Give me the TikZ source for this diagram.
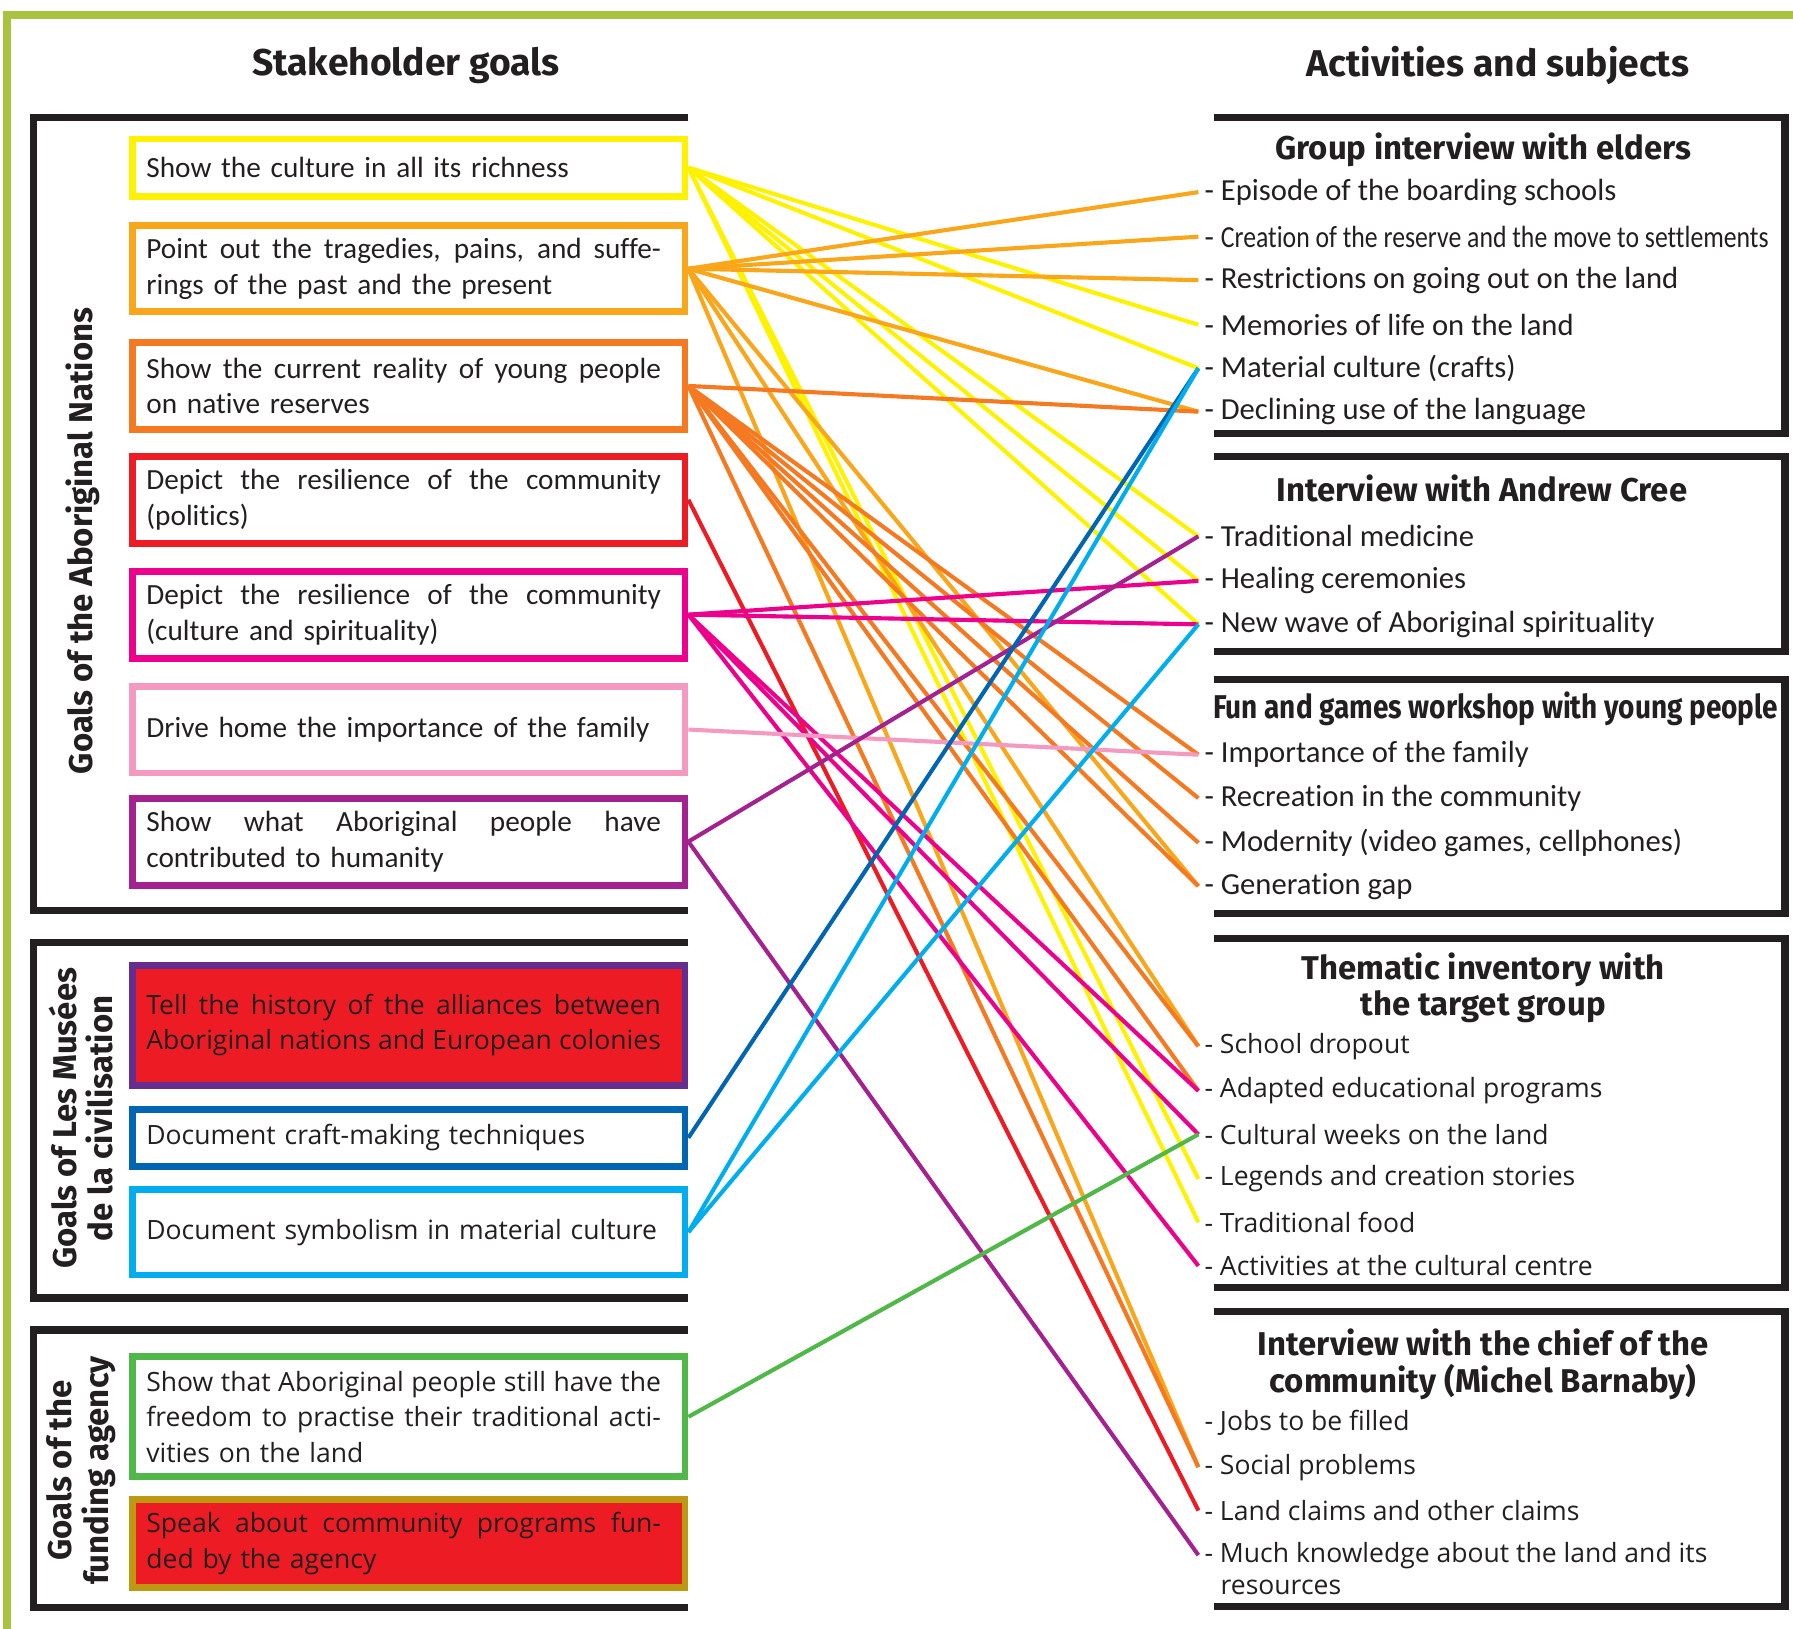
\documentclass[tikz,border=0pt]{standalone}
\usepackage{fontspec}
\usepackage{graphicx}
\usepackage{xcolor}
\usepackage{tikz}
\setmainfont{Open Sans}
\newfontfamily\condfont{Carlito}[Ligatures=NoCommon]
\newfontfamily\headfont{Fira Sans}

\definecolor{framegreen}{HTML}{A9C23F}
\definecolor{inkblack}{HTML}{231F20}
\definecolor{gyellow}{HTML}{FFF200}
\definecolor{gamber}{HTML}{FAA61A}
\definecolor{gorange}{HTML}{F47920}
\definecolor{gred}{HTML}{ED1C24}
\definecolor{gmagenta}{HTML}{EC008C}
\definecolor{gpink}{HTML}{F49AC1}
\definecolor{gpurple}{HTML}{A3228F}
\definecolor{gviolet}{HTML}{662D91}
\definecolor{gblue}{HTML}{0066B3}
\definecolor{gcyan}{HTML}{00AEEF}
\definecolor{ggreen}{HTML}{50B848}
\definecolor{ggold}{HTML}{BE9810}

\newcommand{\jline}[1]{{\spaceskip=0.24em plus 1fil minus 0.08em\relax\makebox[225pt][s]{#1}}}

\begin{document}
\begin{tikzpicture}[x=0.5pt, y=-0.5pt,
    goal/.style={draw=#1, line width=3pt, minimum width=241.5pt, text width=229.5pt, inner sep=0pt, align=left, text=inkblack, font=\condfont\fontsize{12.8}{15.5}\selectfont},
    goalw/.style={goal=#1, font=\fontsize{11.6}{15.5}\selectfont},
    item/.style={anchor=west, inner xsep=2.5pt, inner ysep=0pt, text=inkblack, font=\condfont\fontsize{13.4}{15}\selectfont},
    itemw/.style={item, font=\fontsize{11.6}{14}\selectfont},
    head/.style={text=inkblack, align=center, font=\headfont\bfseries\fontsize{14.4}{16}\selectfont},
    title/.style={head, font=\headfont\bfseries\fontsize{16.3}{18}\selectfont},
    grp/.style={draw=inkblack, line width=3.2pt},
    link/.style={line width=1.8pt}]
    \useasboundingbox (0,0) rectangle (1568,1424);
    \draw[framegreen, line width=3.4pt] (6,1440) -- (6,13) -- (1590,13);

    % column titles
    \node[title] (stake) at (355,57) {Stakeholder goals};
    \node[title] (activ) at (1310,57) {Activities and subjects};

    % stakeholder groups
    \draw[grp] (602,103) -| (29,796) -- (602,796);
    \draw[grp] (602,824) -| (29,1135) -- (602,1135);
    \draw[grp] (602,1163) -| (29,1406) -- (602,1406);
    \node[head, rotate=90] (nations) at (72,473) {Goals of the Aboriginal Nations};
    \node[head, rotate=90] (musees) at (71,978) {Goals of Les Mus\'ees\\de la civilisation};
    \node[head, rotate=90] (agency) at (71,1286) {Goals of the\\funding agency};

    % goals
    \node[goal=gyellow, minimum height=25pt] (g1) at (357.5,146.5) {\mbox{Show the culture in all its richness}};
    \node[goal=gamber, minimum height=37.5pt] (g2) at (357.5,235) {\jline{Point out the tragedies, pains, and suffe-}\\rings of the past and the present};
    \node[goal=gorange, minimum height=38pt] (g3) at (357.5,337.5) {\jline{Show the current reality of young people}\\on native reserves};
    \node[goal=gred, minimum height=38pt] (g4) at (357.5,437) {\jline{Depict the resilience of the community}\\(politics)};
    \node[goal=gmagenta, minimum height=38pt] (g5) at (357.5,537.5) {\jline{Depict the resilience of the community}\\(culture and spirituality)};
    \node[goal=gpink, minimum height=38pt] (g6) at (357.5,638) {\mbox{Drive home the importance of the family}};
    \node[goal=gpurple, minimum height=38pt] (g7) at (357.5,736) {\jline{Show what Aboriginal people have}\\contributed to humanity};
    \node[goalw=gviolet, fill=gred, minimum height=52.5pt] (g8) at (357.5,896.5) {\jline{Tell the history of the alliances between}\\\jline{Aboriginal nations and European colonies}};
    \node[goalw=gblue, minimum height=25pt] (g9) at (357.5,995) {\mbox{Document craft-making techniques}};
    \node[goalw=gcyan, minimum height=37.5pt] (g10) at (357.5,1077.5) {\mbox{Document symbolism in material culture}};
    \node[goalw=ggreen, minimum height=52.5pt] (g11) at (357.5,1239) {\jline{Show that Aboriginal people still have the}\\\jline{freedom to practise their traditional acti-}\\vities on the land};
    \node[goalw=ggold, fill=gred, minimum height=38.5pt] (g12) at (357.5,1350) {\jline{Speak about community programs fun-}\\ded by the agency};

    % activity boxes
    \draw[grp] (1062,103) -| (1561,379) -- (1062,379);
    \draw[grp] (1062,399) -| (1561,570) -- (1062,570);
    \draw[grp] (1062,594) -| (1561,799) -- (1062,799);
    \draw[grp] (1062,821) -| (1561,1126) -- (1062,1126);
    \draw[grp] (1062,1147) -| (1561,1405) -- (1062,1405);

    \node[head] (elders) at (1297,131) {Group interview with elders};
    \node[item] (epi) at (1048,168) {- Episode of the boarding schools};
    \node[item] (crea) at (1048,207) {- \scalebox{0.84}[1]{Creation of the reserve and the move to settlements}};
    \node[item] (restr) at (1048,245) {- Restrictions on going out on the land};
    \node[item] (memo) at (1048,284) {- Memories of life on the land};
    \node[item] (mat) at (1048,322) {- Material culture (crafts)};
    \node[item] (decl) at (1048,360) {- Declining use of the language};

    \node[head] (cree) at (1296,427) {Interview with Andrew Cree};
    \node[item] (med) at (1048,469) {- Traditional medicine};
    \node[item] (heal) at (1048,508) {- Healing ceremonies};
    \node[item] (wave) at (1048,546) {- New wave of Aboriginal spirituality};

    \node[head] (games) at (1308,620) {\scalebox{0.85}[1]{Fun and games workshop with young people}};
    \node[item] (fam) at (1048,660) {- Importance of the family};
    \node[item] (recr) at (1048,698) {- Recreation in the community};
    \node[item] (mod) at (1048,737) {- Modernity (video games, cellphones)};
    \node[item] (gap) at (1048,775) {- Generation gap};

    \node[head] (inventory) at (1297,864) {Thematic inventory with\\the target group};
    \node[itemw] (drop) at (1048,915) {- School dropout};
    \node[itemw] (adap) at (1048,954) {- Adapted educational programs};
    \node[itemw] (week) at (1048,992) {- Cultural weeks on the land};
    \node[itemw] (leg) at (1048,1031) {- Legends and creation stories};
    \node[itemw] (food) at (1048,1069) {- Traditional food};
    \node[itemw] (act) at (1048,1107) {- Activities at the cultural centre};

    \node[head] (chief) at (1297,1193) {Interview with the chief of the\\community (Michel Barnaby)};
    \node[itemw] (jobs) at (1048,1244) {- Jobs to be filled};
    \node[itemw] (soc) at (1048,1283) {- Social problems};
    \node[itemw] (land) at (1048,1321) {- Land claims and other claims};
    \node[itemw] (know) at (1048,1360) {- Much knowledge about the land and its};
    \node[itemw, inner xsep=0pt] (knowres) at (1067,1388) {resources};

    % links
    \draw[link, gyellow] (g1.east) -- (memo.west);
    \draw[link, gyellow] (g1.east) -- (mat.west);
    \draw[link, gyellow] (g1.east) -- (med.west);
    \draw[link, gyellow] (g1.east) -- (heal.west);
    \draw[link, gyellow] (g1.east) -- (wave.west);
    \draw[link, gyellow] (g1.east) -- (leg.west);
    \draw[link, gyellow] (g1.east) -- (food.west);
    \draw[link, gamber] (g2.east) -- (epi.west);
    \draw[link, gamber] (g2.east) -- (crea.west);
    \draw[link, gamber] (g2.east) -- (restr.west);
    \draw[link, gamber] (g2.east) -- (decl.west);
    \draw[link, gamber] (g2.east) -- (gap.west);
    \draw[link, gamber] (g2.east) -- (drop.west);
    \draw[link, gamber] (g2.east) -- (soc.west);
    \draw[link, gorange] (g3.east) -- (decl.west);
    \draw[link, gorange] (g3.east) -- (fam.west);
    \draw[link, gorange] (g3.east) -- (recr.west);
    \draw[link, gorange] (g3.east) -- (mod.west);
    \draw[link, gorange] (g3.east) -- (gap.west);
    \draw[link, gorange] (g3.east) -- (drop.west);
    \draw[link, gorange] (g3.east) -- (adap.west);
    \draw[link, gorange] (g3.east) -- (soc.west);
    \draw[link, gred] (g4.east) -- (land.west);
    \draw[link, gmagenta] (g5.east) -- (heal.west);
    \draw[link, gmagenta] (g5.east) -- (wave.west);
    \draw[link, gmagenta] (g5.east) -- (adap.west);
    \draw[link, gmagenta] (g5.east) -- (week.west);
    \draw[link, gmagenta] (g5.east) -- (act.west);
    \draw[link, gpink] (g6.east) -- (fam.west);
    \draw[link, gpurple] (g7.east) -- (med.west);
    \draw[link, gpurple] (g7.east) -- (know.west);
    \draw[link, gblue] (g9.east) -- (mat.west);
    \draw[link, gcyan] (g10.east) -- (mat.west);
    \draw[link, gcyan] (g10.east) -- (wave.west);
    \draw[link, ggreen] (g11.east) -- (week.west);
\end{tikzpicture}
\end{document}
